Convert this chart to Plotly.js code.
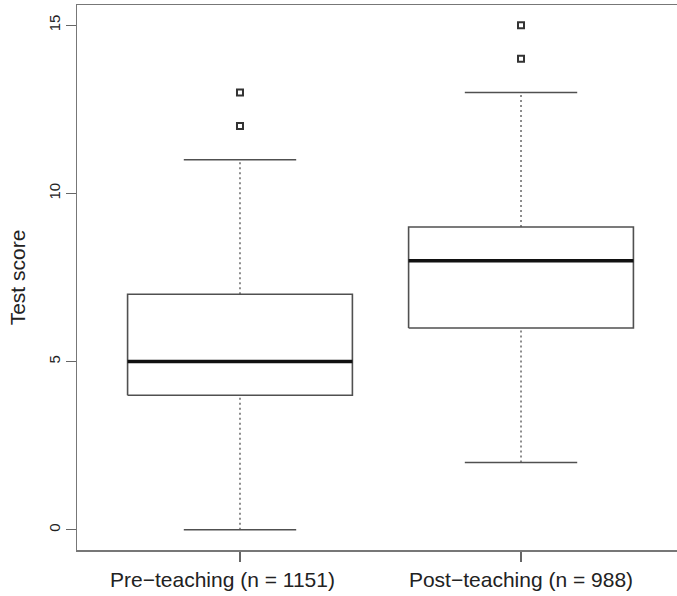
<!DOCTYPE html>
<html>
<head>
<meta charset="utf-8">
<script src="https://cdn.plot.ly/plotly-3.0.1.min.js"></script>
<style>
  html, body { margin: 0; padding: 0; overflow: hidden; background: #fff; }
  #chart { width: 690px; height: 596px; }
</style>
</head>
<body>
<div id="chart"></div>
<script>
// ---- Data ----
const categories = ['Pre\u2212teaching (n = 1151)', 'Post\u2212teaching (n = 988)'];
const lowerWhisker = [0, 2];
const q1 = [4, 6];
const median = [5, 8];
const q3 = [7, 9];
const upperWhisker = [11, 13];
const outliers = [[12, 13], [14, 15]];
const yTicks = [0, 5, 10, 15];

// ---- Style ----
const boxHalf = 0.4;   // R boxwex 0.8
const capHalf = 0.2;   // staplewex 0.5
const lineCol = '#505050';
const labelPad = [6, 0]; // trailing no-break spaces: the first label sits left of its tick in the reference
const traces = [];

categories.forEach((cat, i) => {
  const x = i + 1;
  // dashed whiskers
  traces.push({
    type: 'scatter', mode: 'lines', hoverinfo: 'skip', showlegend: false,
    x: [x, x, null, x, x],
    y: [lowerWhisker[i], q1[i], null, q3[i], upperWhisker[i]],
    line: { color: lineCol, width: 1.3, dash: '2px,3px' }
  });
  // staples (caps)
  traces.push({
    type: 'scatter', mode: 'lines', hoverinfo: 'skip', showlegend: false,
    x: [x - capHalf, x + capHalf, null, x - capHalf, x + capHalf],
    y: [lowerWhisker[i], lowerWhisker[i], null, upperWhisker[i], upperWhisker[i]],
    line: { color: lineCol, width: 1.6 }
  });
  // box
  traces.push({
    type: 'scatter', mode: 'lines', hoverinfo: 'skip', showlegend: false,
    x: [x - boxHalf, x + boxHalf, x + boxHalf, x - boxHalf, x - boxHalf],
    y: [q1[i], q1[i], q3[i], q3[i], q1[i]],
    line: { color: lineCol, width: 1.6 }
  });
  // median
  traces.push({
    type: 'scatter', mode: 'lines', hoverinfo: 'skip', showlegend: false,
    x: [x - boxHalf, x + boxHalf],
    y: [median[i], median[i]],
    line: { color: '#111', width: 3.5 }
  });
  // outliers
  traces.push({
    type: 'scatter', mode: 'markers', hoverinfo: 'skip', showlegend: false,
    x: outliers[i].map(() => x),
    y: outliers[i],
    marker: { symbol: 'square-open', size: 6, color: '#333', line: { color: '#333', width: 2 } }
  });
});

const fontFam = '"Liberation Sans", Arial, Helvetica, sans-serif';

const layout = {
  width: 690,
  height: 596,
  margin: { l: 77, r: 6, t: 5, b: 46 },
  paper_bgcolor: '#fff',
  plot_bgcolor: '#fff',
  font: { family: fontFam, color: '#222' },
  showlegend: false,
  xaxis: {
    range: [0.42, 2.58],
    tickmode: 'array',
    tickvals: categories.map((c, i) => i + 1),
    ticktext: categories.map((c, i) => c + '\u00a0'.repeat(labelPad[i])),
    ticks: 'outside', ticklen: 10, tickwidth: 1.3, tickcolor: '#666',
    tickfont: { size: 21, family: fontFam, color: '#222' },
    showgrid: false, zeroline: false,
    showline: true, mirror: true, linecolor: '#777', linewidth: 1.5
  },
  yaxis: {
    range: [-0.6, 15.6],
    tickmode: 'array',
    tickvals: yTicks,
    ticktext: yTicks.map(String),
    tickangle: -90,
    ticks: 'outside', ticklen: 10, tickwidth: 1.3, tickcolor: '#666',
    tickfont: { size: 15, family: fontFam, color: '#222' },
    showgrid: false, zeroline: false,
    showline: true, mirror: true, linecolor: '#777', linewidth: 1.5,
    title: { text: 'Test score', font: { size: 21, family: fontFam, color: '#222' }, standoff: 14 }
  }
};

Plotly.newPlot('chart', traces, layout, { staticPlot: true, displayModeBar: false, responsive: false });
</script>
</body>
</html>
